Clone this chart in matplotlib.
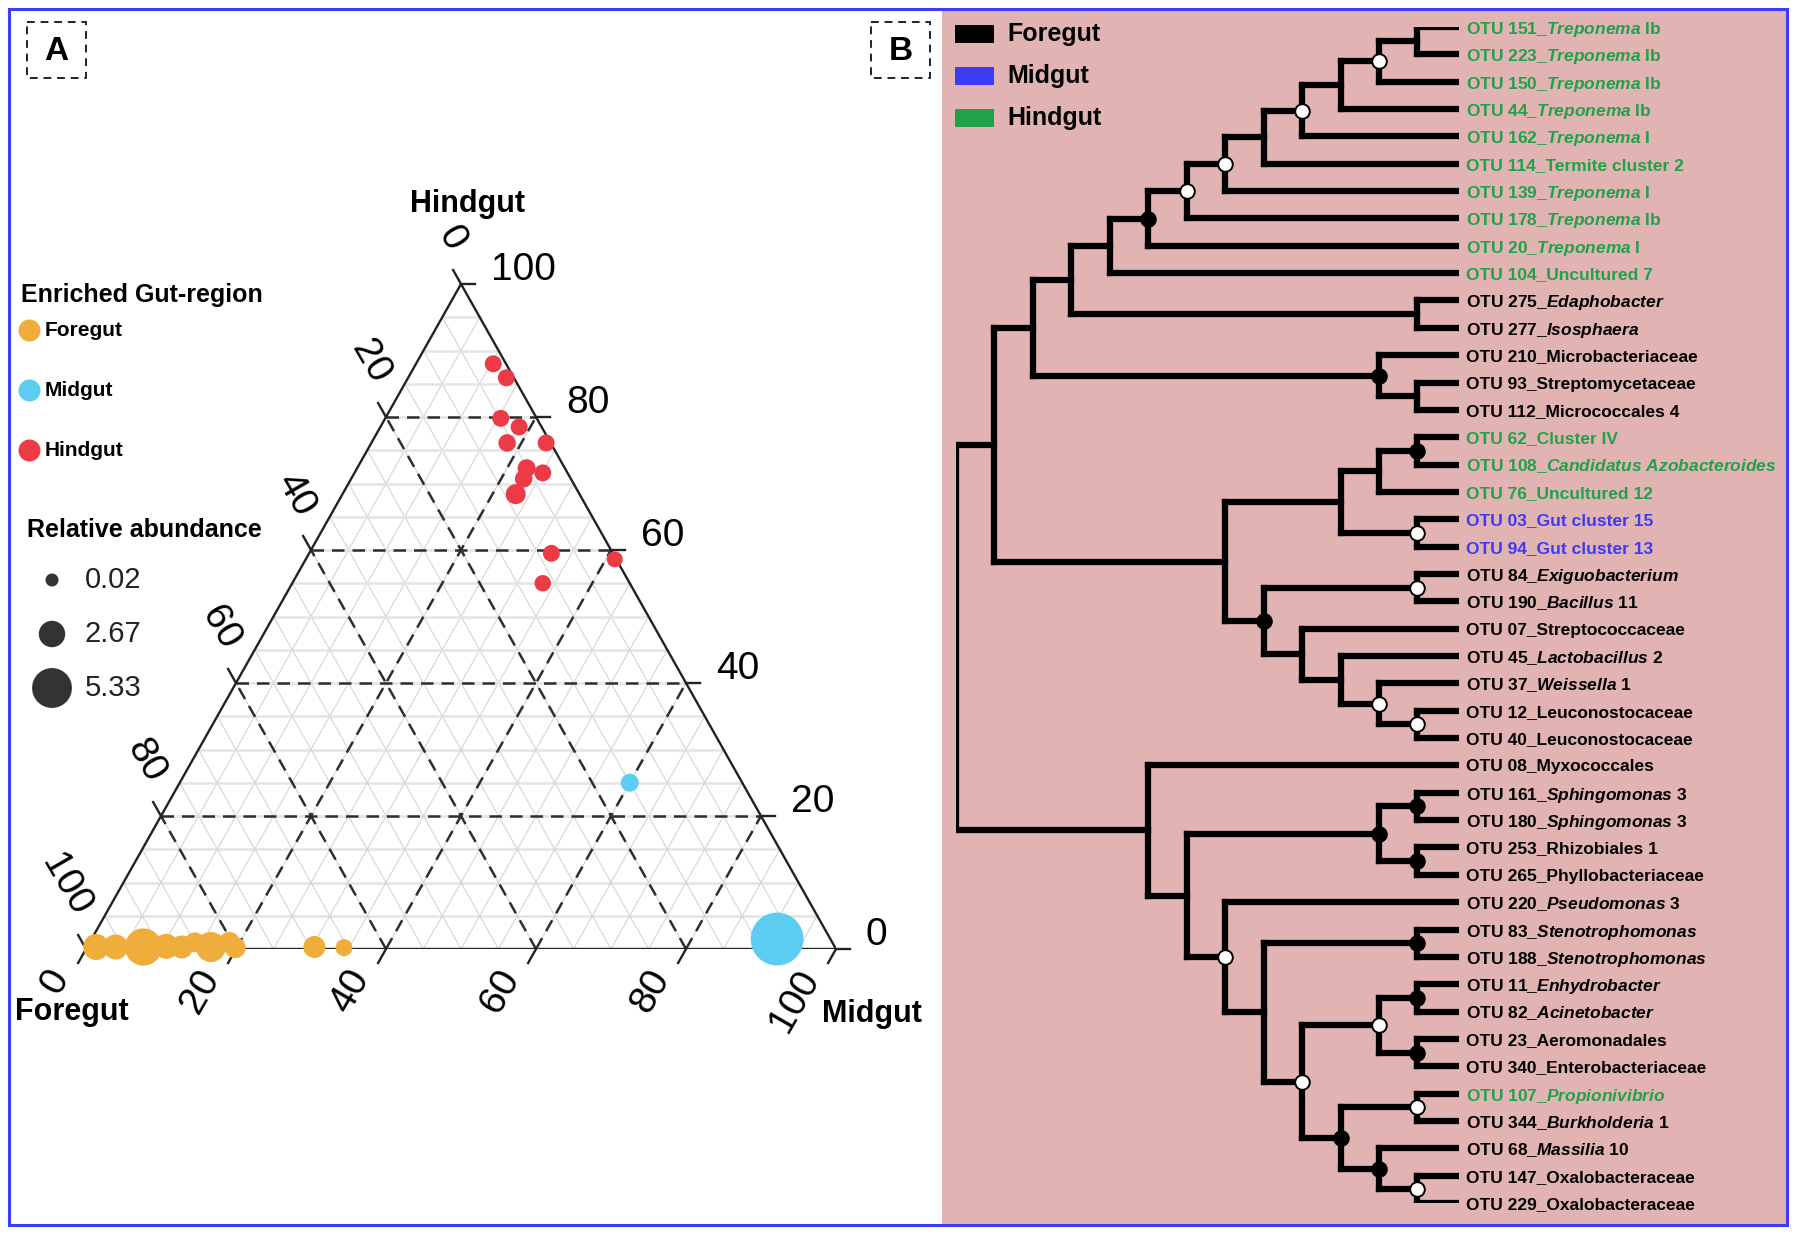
import re
import matplotlib.pyplot as plt
import numpy as np
from matplotlib.collections import LineCollection
from matplotlib.patches import Rectangle

plt.rcParams['font.family'] = ['Liberation Sans', 'DejaVu Sans']
plt.rcParams['mathtext.fontset'] = 'custom'
plt.rcParams['mathtext.rm'] = 'Liberation Sans:bold'
plt.rcParams['mathtext.it'] = 'Liberation Sans:italic:bold'
plt.rcParams['mathtext.bf'] = 'Liberation Sans:bold'

W, H = 1796, 1234

# ---------------- panel A: ternary plot data (percent) ----------------
fore_pct = [98.5, 95.9, 92.2, 89.1, 87.1, 85.0, 83.2, 80.4, 80.0, 69.4, 65.5,
            1.7, 1.0, 4.8, 3.0, 5.8, 0.6, 5.1, 3.3, 6.3, 8.5, 8.2, 0.2, 11.6,
            7.1, 15.0]
mid_pct = [1.2, 3.8, 7.5, 10.5, 12.6, 14.0, 16.5, 18.6, 19.8, 30.3, 34.3,
           10.3, 13.1, 15.4, 18.5, 18.1, 23.3, 22.6, 25.1, 23.0, 23.1, 32.3, 41.2, 33.4,
           91.4, 60.0]
hind_pct = [0.3, 0.3, 0.3, 0.4, 0.3, 1.0, 0.3, 1.0, 0.2, 0.3, 0.2,
            88.0, 85.9, 79.8, 78.5, 76.1, 76.1, 72.3, 71.6, 70.7, 68.4, 59.5, 58.6, 55.0,
            1.5, 25.0]
abundance = [2.6, 2.4, 4.8, 2.4, 2.0, 1.4, 3.4, 1.6, 1.6, 1.8, 0.8,
             0.8, 0.8, 0.8, 0.8, 0.9, 0.8, 1.0, 0.8, 0.9, 1.4, 0.8, 0.6, 0.7,
             7.9, 1.0]
enriched = ['Foregut'] * 11 + ['Hindgut'] * 13 + ['Midgut'] * 2

region_names = ['Foregut', 'Midgut', 'Hindgut']
region_colors = {'Foregut': '#efae3c', 'Midgut': '#5ccdf0', 'Hindgut': '#ec3b47'}
size_breaks = [0.02, 2.67, 5.33]
axis_ticks = [0, 20, 40, 60, 80, 100]

# ---------------- panel B: tree data ----------------
otu_ids = ['151', '223', '150', '44', '162', '114', '139', '178', '20', '104',
           '275', '277', '210', '93', '112', '62', '108', '76', '03', '94',
           '84', '190', '07', '45', '37', '12', '40', '08', '161', '180',
           '253', '265', '220', '83', '188', '11', '82', '23', '340', '107',
           '344', '68', '147', '229']
otu_taxa = ['*Treponema* Ib', '*Treponema* Ib', '*Treponema* Ib', '*Treponema* Ib', '*Treponema* I',
            'Termite cluster 2', '*Treponema* I', '*Treponema* Ib', '*Treponema* I', 'Uncultured 7',
            '*Edaphobacter*', '*Isosphaera*', 'Microbacteriaceae', 'Streptomycetaceae', 'Micrococcales 4',
            'Cluster IV', '*Candidatus Azobacteroides*', 'Uncultured 12', 'Gut cluster 15', 'Gut cluster 13',
            '*Exiguobacterium*', '*Bacillus* 11', 'Streptococcaceae', '*Lactobacillus* 2', '*Weissella* 1',
            'Leuconostocaceae', 'Leuconostocaceae', 'Myxococcales', '*Sphingomonas* 3', '*Sphingomonas* 3',
            'Rhizobiales 1', 'Phyllobacteriaceae', '*Pseudomonas* 3', '*Stenotrophomonas*', '*Stenotrophomonas*',
            '*Enhydrobacter*', '*Acinetobacter*', 'Aeromonadales', 'Enterobacteriaceae', '*Propionivibrio*',
            '*Burkholderia* 1', '*Massilia* 10', 'Oxalobacteraceae', 'Oxalobacteraceae']
otu_group = ['Hindgut'] * 10 + ['Foregut'] * 5 + ['Hindgut'] * 3 + ['Midgut'] * 2 + \
            ['Foregut'] * 19 + ['Hindgut'] + ['Foregut'] * 4
group_colors = {'Foregut': '#000000', 'Midgut': '#3b3bf5', 'Hindgut': '#1fa24a'}

# nested clades (cladogram)
treponema = (((((((((('151', '223'), '150'), '44'), '162'), '114'), '139'), '178'), '20'), '104'),
             ('275', '277'))
top_clade = (treponema, ('210', ('93', '112')))
mid_clade = (((('62', '108'), '76'), ('03', '94')),
             (('84', '190'), ('07', ('45', ('37', ('12', '40'))))))
acineto = (('11', '82'), ('23', '340'))
burkh = (('107', '344'), ('68', ('147', '229')))
gamma = (('83', '188'), (acineto, burkh))
alpha = (('161', '180'), ('253', '265'))
low_clade = ('08', (alpha, ('220', gamma)))
tree = ((top_clade, mid_clade), low_clade)

# node support symbols, given by first and last tip of the clade
support_filled = [('151', '20'), ('210', '112'), ('62', '108'), ('84', '40'),
                  ('161', '180'), ('253', '265'), ('161', '265'), ('83', '188'),
                  ('11', '82'), ('23', '340'), ('107', '229'), ('68', '229')]
support_open = [('151', '150'), ('151', '162'), ('151', '139'), ('151', '178'),
                ('03', '94'), ('84', '190'), ('37', '40'), ('12', '40'),
                ('220', '229'), ('11', '340'), ('11', '229'), ('107', '344'),
                ('147', '229')]


def tern(f, m, h):
    # ternary percentages -> cartesian (x along base, y = height fraction)
    f, m, h = np.asarray(f) / 100, np.asarray(m) / 100, np.asarray(h) / 100
    return m + h / 2, h


def dot_size(v):
    d = 12.9 + 5.06 * np.asarray(v)  # diameter in px
    return (d * 0.72) ** 2


fig = plt.figure(figsize=(W / 100, H / 100), dpi=100)

# background canvas in pixel coordinates
bg = fig.add_axes([0, 0, 1, 1], zorder=0)
bg.set_xlim(0, W)
bg.set_ylim(H, 0)
bg.axis('off')
bg.add_patch(Rectangle((942, 10), 845, 1215, facecolor='#e1b3b3', edgecolor='none'))
bg.add_patch(Rectangle((9, 9), 1778, 1216, facecolor='none', edgecolor='#3c3cff', lw=2.2))
for lab, (bx, by) in zip(['A', 'B'], [(27, 22), (871, 22)]):
    bg.add_patch(Rectangle((bx, by), 59, 56, facecolor='none', edgecolor='#222222',
                           lw=1.4, linestyle=(0, (4, 3))))
    bg.text(bx + 29.5, by + 29, lab, fontsize=24, fontweight='bold', ha='center', va='center')

# ---------------- panel A ----------------
ta = fig.add_axes([86 / W, 1 - 949 / H, 750 / W, 665 / H], zorder=2)
ta.set_xlim(0, 1)
ta.set_ylim(0, 1)
ta.axis('off')

grid_all = np.arange(5, 100, 5)
for v in grid_all:
    # constant hindgut (horizontal)
    xs, ys = tern([100 - v, 0], [0, 100 - v], [v, v])
    ta.plot(xs, ys, color='#e4e4e4', lw=1.8, zorder=1)
    # constant midgut
    xs, ys = tern([100 - v, 0], [v, v], [0, 100 - v])
    ta.plot(xs, ys, color='#d4d4d4', lw=0.8, zorder=1)
    # constant foregut
    xs, ys = tern([v, v], [100 - v, 0], [0, 100 - v])
    ta.plot(xs, ys, color='#d4d4d4', lw=0.8, zorder=1)
    if v % 20 == 0:
        for xs, ys in [tern([100 - v, 0], [0, 100 - v], [v, v]),
                       tern([100 - v, 0], [v, v], [0, 100 - v]),
                       tern([v, v], [100 - v, 0], [0, 100 - v])]:
            ta.plot(xs, ys, color='#2e2e2e', lw=1.8, linestyle=(0, (5, 3.2)), zorder=2)

# triangle outline
xs, ys = tern([100, 0, 0, 100], [0, 100, 0, 0], [0, 0, 100, 0])
ta.plot(xs, ys, color='#222222', lw=1.7, zorder=3, solid_joinstyle='miter')

tl = 0.021
for v in axis_ticks:
    # bottom axis: midgut
    x0, y0 = tern(100 - v, v, 0)
    ta.plot([x0, x0 - tl / 2], [y0, y0 - tl], color='#222222', lw=1.7, clip_on=False)
    ta.annotate(str(v), (x0, y0), xytext=(-18, -17), textcoords='offset points',
                rotation=60, rotation_mode='anchor', ha='right', va='center',
                fontsize=28, annotation_clip=False)
    # right axis: hindgut
    x0, y0 = tern(0, 100 - v, v)
    ta.plot([x0, x0 + 0.019], [y0, y0], color='#222222', lw=1.7, clip_on=False)
    ta.annotate(str(v), (x0, y0), xytext=(21.5, 10), textcoords='offset points',
                ha='left', va='center', fontsize=28, annotation_clip=False)
    # left axis: foregut
    x0, y0 = tern(v, 0, 100 - v)
    ta.plot([x0, x0 - tl / 2], [y0, y0 + tl], color='#222222', lw=1.7, clip_on=False)
    ta.annotate(str(v), (x0, y0), xytext=(-3, 26), textcoords='offset points',
                rotation=-60, rotation_mode='anchor', ha='right', va='center',
                fontsize=28, annotation_clip=False)

px, py = tern(fore_pct, mid_pct, hind_pct)
cols = [region_colors[e] for e in enriched]
ta.scatter(px, py, s=dot_size(abundance), c=cols, edgecolors='none', zorder=5, clip_on=False)

bg.text(467, 204, 'Hindgut', fontsize=22, fontweight='bold', ha='center', va='center')
bg.text(72, 1012, 'Foregut', fontsize=22, fontweight='bold', ha='center', va='center')
bg.text(872, 1014, 'Midgut', fontsize=22, fontweight='bold', ha='center', va='center')

# legends of panel A
bg.text(21, 295, 'Enriched Gut-region', fontsize=18, fontweight='bold', ha='left', va='center')
for i, name in enumerate(region_names):
    yy = 330 + i * 60
    bg.plot(29, yy, 'o', ms=22 * 0.72, color=region_colors[name], mec='none')
    bg.text(45, yy, name, fontsize=15, fontweight='bold', ha='left', va='center')
bg.text(27, 530, 'Relative abundance', fontsize=18, fontweight='bold', ha='left', va='center')
for i, v in enumerate(size_breaks):
    yy = 580 + i * 54
    bg.scatter([52], [yy], s=dot_size(v), color='#333333', edgecolors='none')
    bg.text(85, yy, f'{v:.2f}', fontsize=21, color='#222222', ha='left', va='center')

# ---------------- panel B ----------------
tb = fig.add_axes([956 / W, 1 - 1203 / H, 503 / W, 1176 / H], zorder=2)
tb.axis('off')


def tips(node):
    if isinstance(node, str):
        return [node]
    return [t for c in node for t in tips(c)]


ypos = {o: i for i, o in enumerate(otu_ids)}
segs = []
node_xy = {}


def layout(node):
    # returns (height, y); x of a node = root height - node height
    if isinstance(node, str):
        return 0, ypos[node]
    res = [layout(c) for c in node]
    h = max(r[0] for r in res) + 1
    y = (res[0][1] + res[-1][1]) / 2
    segs.append((h, res[0][1], res[-1][1], res))
    t = tips(node)
    node_xy[(t[0], t[-1])] = (h, y)
    return h, y


root_h, _ = layout(tree)
lines = []
for h, y0, y1, kids in segs:
    x = root_h - h
    lines.append([(x, y0), (x, y1)])
    for kh, ky in kids:
        lines.append([(x, ky), (root_h - kh, ky)])
tb.add_collection(LineCollection(lines, colors='black', linewidths=4.5, capstyle='projecting'))
tb.set_xlim(0, root_h + 0.08)
tb.set_ylim(len(otu_ids) - 1, 0)

for keys, fc in [(support_filled, 'black'), (support_open, 'white')]:
    for k in keys:
        h, y = node_xy[k]
        tb.plot(root_h - h, y, 'o', ms=10.5, mfc=fc, mec='black', mew=1.4, zorder=4)


def fmt(taxon):
    return re.sub(r'\*(.+?)\*',
                  lambda m: r'$\mathit{' + m.group(1).replace(' ', r'\ ') + '}$', taxon)


for i, (oid, tx, g) in enumerate(zip(otu_ids, otu_taxa, otu_group)):
    tb.annotate(f'OTU {oid}_' + fmt(tx), (root_h, i), xytext=(7, 0), textcoords='offset points',
                ha='left', va='center_baseline', fontsize=12.5, fontweight='bold',
                color=group_colors[g], annotation_clip=False)

for i, name in enumerate(region_names):
    yy = 34 + i * 42
    bg.add_patch(Rectangle((955, yy - 9), 39, 18, facecolor=group_colors[name], edgecolor='none'))
    bg.text(1007, yy, name, fontsize=18, fontweight='bold', ha='left', va='center')

fig.savefig('out.png', dpi=100)
